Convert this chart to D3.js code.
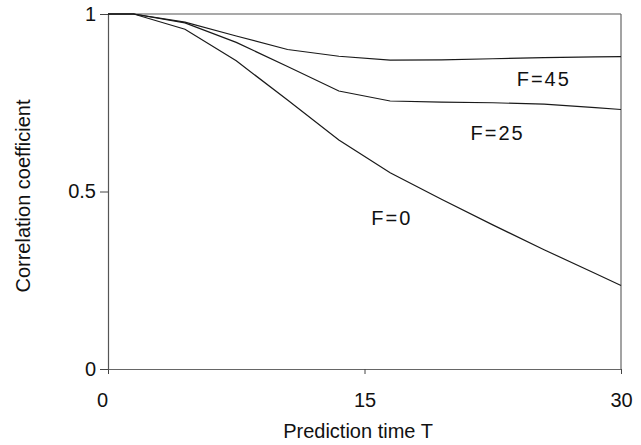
<!DOCTYPE html>
<html>
<head>
<meta charset="utf-8">
<script src="https://cdn.jsdelivr.net/npm/d3@7"></script>
<style>
  html, body { margin: 0; padding: 0; background: #fff; }
  svg { display: block; }
  text { font-family: "Liberation Sans", Arial, sans-serif; fill: #111; }
</style>
</head>
<body>
<svg id="chart" width="641" height="445"></svg>
<script>
// Prediction time T (sample points of the curves)
const predictionTime = [0, 1.5, 4.5, 7.5, 10.5, 13.5, 16.5, 19.5, 22.5, 25.5, 28.5, 30];

// Correlation coefficient for each filter value F
const corrF0  = [1, 1, 0.957, 0.868, 0.758, 0.645, 0.553, 0.478, 0.406, 0.336, 0.269, 0.235];
const corrF25 = [1, 1, 0.975, 0.920, 0.852, 0.783, 0.755, 0.752, 0.750, 0.746, 0.736, 0.731];
const corrF45 = [1, 1, 0.977, 0.938, 0.900, 0.881, 0.870, 0.871, 0.874, 0.877, 0.879, 0.880];

const seriesNames = ["F=0", "F=25", "F=45"];
const seriesValues = [corrF0, corrF25, corrF45];
// label anchor points in data units (T, correlation)
const labelT = [15.4, 21.2, 23.9];
const labelY = [0.405, 0.645, 0.798];

const xTicks = [0, 15, 30];
const yTicks = [0, 0.5, 1];

const width = 641, height = 445;
const margin = { top: 14, right: 20, bottom: 76, left: 108 };

const svg = d3.select("#chart");

const x = d3.scaleLinear().domain([0, 30]).range([margin.left, width - margin.right]);
const y = d3.scaleLinear().domain([0, 1]).range([height - margin.bottom, margin.top]);

// frame: top and right border
svg.append("line")
  .attr("x1", x(0)).attr("x2", x(30))
  .attr("y1", y(1)).attr("y2", y(1))
  .attr("stroke", "#555").attr("stroke-width", 1.2);
svg.append("line")
  .attr("x1", x(30)).attr("x2", x(30))
  .attr("y1", y(1)).attr("y2", y(0))
  .attr("stroke", "#666").attr("stroke-width", 1.2);

// x axis
const xAxis = svg.append("g")
  .attr("transform", `translate(0,${y(0)})`)
  .call(d3.axisBottom(x).tickValues(xTicks).tickFormat(d3.format("d"))
    .tickSizeInner(5).tickSizeOuter(0).tickPadding(19));
xAxis.select(".domain").attr("stroke", "#666").attr("stroke-width", 1.2);
xAxis.selectAll(".tick line").attr("stroke", "#444");
xAxis.selectAll(".tick text").style("font-size", "20px").attr("fill", "#111")
  .attr("dx", d => d === 0 ? -6 : 0);

// y axis
const yAxis = svg.append("g")
  .attr("transform", `translate(${x(0)},0)`)
  .call(d3.axisLeft(y).tickValues(yTicks).tickFormat(d => d === 0.5 ? "0.5" : d3.format("d")(d))
    .tickSizeInner(8).tickSizeOuter(0).tickPadding(4));
yAxis.select(".domain").attr("stroke", "#555").attr("stroke-width", 1.2);
yAxis.selectAll(".tick line").attr("stroke", "#444");
yAxis.selectAll(".tick text").style("font-size", "20px").attr("fill", "#111");

// curves
const line = d3.line()
  .x((d, i) => x(predictionTime[i]))
  .y(d => y(d));

svg.append("g")
  .selectAll("path")
  .data(seriesValues)
  .join("path")
  .attr("d", line)
  .attr("fill", "none")
  .attr("stroke", "#1a1a1a")
  .attr("stroke-width", 1.2);

// curve labels
svg.append("g")
  .selectAll("text")
  .data(seriesNames)
  .join("text")
  .attr("x", (d, i) => x(labelT[i]))
  .attr("y", (d, i) => y(labelY[i]))
  .style("font-size", "20px")
  .style("letter-spacing", "2px")
  .text(d => d);

// axis titles
svg.append("text")
  .attr("x", 358)
  .attr("y", 438)
  .attr("text-anchor", "middle")
  .style("font-size", "20px")
  .text("Prediction time T");

svg.append("text")
  .attr("transform", "translate(30,196) rotate(-90)")
  .attr("text-anchor", "middle")
  .style("font-size", "20px")
  .text("Correlation coefficient");
</script>
</body>
</html>
